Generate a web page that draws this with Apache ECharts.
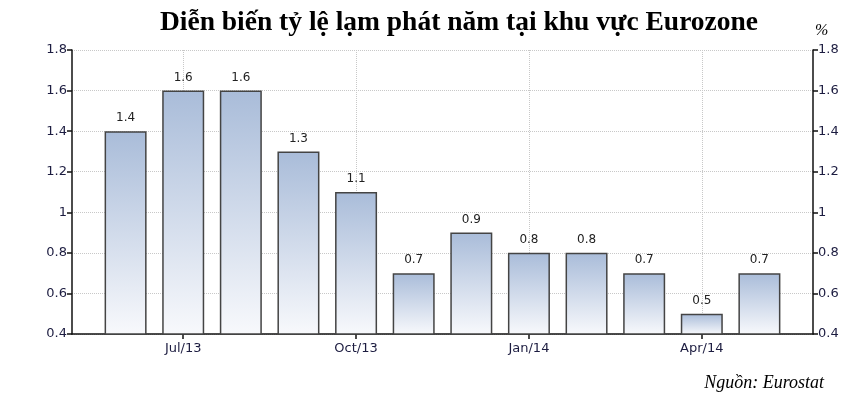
<!DOCTYPE html>
<html>
<head>
<meta charset="utf-8">
<script src="https://cdn.jsdelivr.net/npm/echarts@6/dist/echarts.min.js"></script>
<style>html,body{margin:0;padding:0;background:#fff}#c{width:856px;height:403px}</style>
</head>
<body>
<div id="c"></div>
<script>
const months = ['Jun/13','Jul/13','Aug/13','Sep/13','Oct/13','Nov/13','Dec/13','Jan/14','Feb/14','Mar/14','Apr/14','May/14'];
const inflation = [1.4, 1.6, 1.6, 1.3, 1.1, 0.7, 0.9, 0.8, 0.8, 0.7, 0.5, 0.7];
const labelIdx = [1, 4, 7, 10];
const yTicks = [0.4, 0.6, 0.8, 1, 1.2, 1.4, 1.6, 1.8];

const chart = echarts.init(document.getElementById('c'));
const axisFont = {fontFamily: 'DejaVu Sans', fontSize: 13, color: '#1c1c40'};
const yAxisBase = {
  type: 'value', min: 0.4, max: 1.8, interval: 0.2,
  axisLine: {show: true, onZero: false, lineStyle: {color: '#111', width: 1.5}},
  axisTick: {show: true, length: 5, lineStyle: {color: '#111', width: 1.5}},
  axisLabel: Object.assign({margin: 5, formatter: v => String(Math.round(v*10)/10)}, axisFont)
};
chart.setOption({
  animation: false,
  title: [
    {text: 'Diễn biến tỷ lệ lạm phát năm tại khu vực Eurozone', left: 454, top: 4, textAlign: 'center',
     textStyle: {fontFamily: 'Liberation Serif', fontWeight: 'bold', fontSize: 27.5, color: '#000'}},
    {text: '%', left: 810, top: 18, textStyle: {fontFamily: 'Liberation Serif', fontStyle: 'italic', fontWeight: 'normal', fontSize: 16, color: '#000'}},
    {text: 'Nguồn: Eurostat', right: 27, top: 369, textStyle: {fontFamily: 'Liberation Serif', fontStyle: 'italic', fontWeight: 'normal', fontSize: 18, color: '#000'}}
  ],
  grid: {left: 72, right: 43, top: 50, bottom: 69},
  xAxis: {
    type: 'value', min: -0.93, max: 11.93,
    axisLine: {show: true, onZero: false, lineStyle: {color: '#111', width: 1.5}},
    axisTick: {show: true, length: 5, customValues: labelIdx, lineStyle: {color: '#111', width: 1.5}},
    axisLabel: Object.assign({customValues: labelIdx, margin: 8, formatter: v => months[Math.round(v)] || ''}, axisFont),
    splitLine: {show: true, lineStyle: {color: '#c8c8c8', type: 'dotted', width: 1}}
  },
  yAxis: [
    Object.assign({}, yAxisBase, {position: 'left', splitLine: {show: true, lineStyle: {color: '#c8c8c8', type: 'dotted', width: 1}}}),
    Object.assign({}, yAxisBase, {position: 'right', splitLine: {show: false}})
  ],
  series: [{
    type: 'bar',
    barWidth: 42,
    data: inflation.map((v, i) => [i, v]),
    itemStyle: {
      borderColor: '#444', borderWidth: 1.5,
      color: new echarts.graphic.LinearGradient(0, 0, 0, 1, [
        {offset: 0, color: '#a9bcd9'}, {offset: 1, color: '#f8f9fc'}
      ])
    },
    label: {show: true, position: 'top', distance: 7, fontFamily: 'DejaVu Sans', fontSize: 12, color: '#222',
      formatter: p => p.value[1].toFixed(1)}
  }]
});
</script>
</body>
</html>
